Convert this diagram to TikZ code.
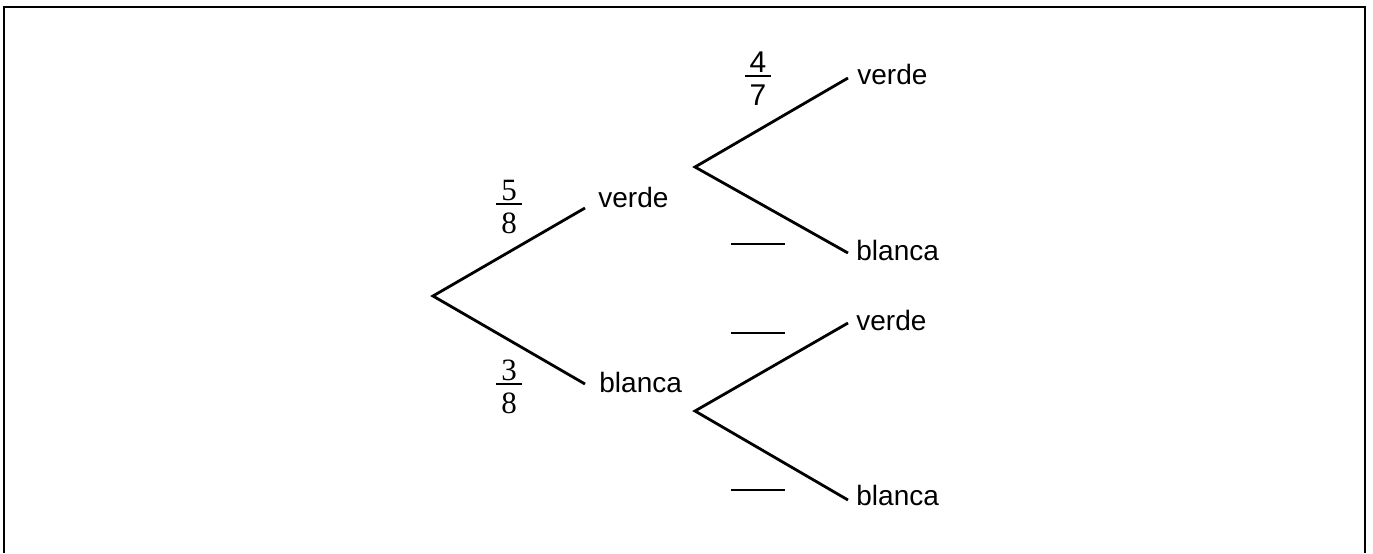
\documentclass[tikz,border=0pt]{standalone}
\usepackage{fontspec}
\setmainfont{Liberation Sans}
\newfontfamily\serifdigits{Liberation Serif}
% stacked fraction: numerator, bar, denominator
\newcommand\stackfrac[2]{\vbox{%
  \hbox to 13pt{\hss#1\hss}\kern1pt
  \hrule height 1pt\kern4pt
  \hbox to 13pt{\hss#2\hss}}}
\begin{document}
\begin{tikzpicture}[x=0.5pt,y=-0.5pt,
  branch/.style={line width=1.4pt},
  blank/.style={line width=1.3pt},
  word/.style={font=\fontsize{14}{16}\selectfont, inner sep=0pt, anchor=base west},
  prob/.style={font=\serifdigits\fontsize{15.5}{18}\selectfont, inner sep=0pt, anchor=north},
  probsans/.style={font=\fontsize{15}{18}\selectfont, inner sep=0pt, anchor=north}]
\useasboundingbox (0,0) rectangle (1373,553);
% open frame
\draw[line width=1pt] (4,553) -- (4,6.5) -- (1365,6.5) -- (1365,553);

% first draw
\coordinate (root) at (433,296);
\coordinate (endV) at (585,208);
\coordinate (endB) at (585,384);
\node[word] (verde) at (598,207) {verde};
\node[word] (blanca) at (599,392) {blanca};
\draw[branch] (endV) -- (root) -- (endB);
\node[prob] (pV) at (509,180) {\stackfrac{5}{8}};
\node[prob] (pB) at (509,360) {\stackfrac{3}{8}};

% second draw after verde
\coordinate (forkV) at (695,167);
\coordinate (endVV) at (848,78);
\coordinate (endVB) at (848,253);
\node[word] (verdeV) at (857,84) {verde};
\node[word] (blancaV) at (856,260) {blanca};
\draw[branch] (endVV) -- (forkV) -- (endVB);
\node[probsans] (pVV) at (758,51.5) {\stackfrac{4}{7}};
\coordinate (bVBa) at (731,244); \coordinate (bVBb) at (785,244);
\draw[blank] (bVBa) -- (bVBb);

% second draw after blanca
\coordinate (forkB) at (695,411);
\coordinate (endBV) at (848,323);
\coordinate (endBB) at (848,500);
\node[word] (verdeB) at (856,330) {verde};
\node[word] (blancaB) at (856,505) {blanca};
\draw[branch] (endBV) -- (forkB) -- (endBB);
\coordinate (bBVa) at (731,333); \coordinate (bBVb) at (785,333);
\draw[blank] (bBVa) -- (bBVb);
\coordinate (bBBa) at (731,490); \coordinate (bBBb) at (785,490);
\draw[blank] (bBBa) -- (bBBb);
\end{tikzpicture}
\end{document}
